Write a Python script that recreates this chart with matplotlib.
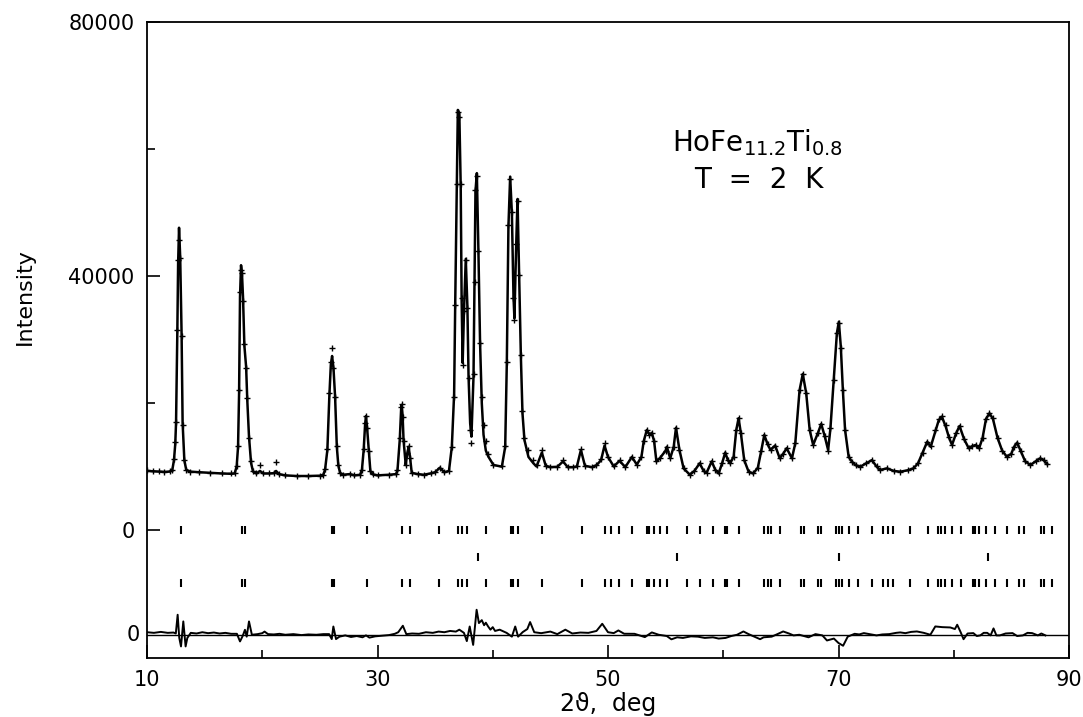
import matplotlib
matplotlib.use("Agg")
import matplotlib.pyplot as plt

plt.rcParams['font.family'] = ['DejaVu Sans']
plt.rcParams['mathtext.default'] = 'regular'

# ---- profile readings, in segments (2theta, calculated, observed) ----
tt_a = [10.0, 10.5, 11.0, 11.5, 12.0, 12.2, 12.34, 12.45, 12.52, 12.63, 12.7, 12.78, 12.88, 13.0, 13.09, 13.24, 13.4, 13.7]
ic_a = [9300, 9250, 9200, 9150, 9200, 9500, 11000, 13500, 16850, 31000, 42000, 47600, 43000, 31000, 16850, 11000, 9500, 9200]
io_a = [9400, 9300, 9250, 9200, 9250, 9500, 11200, 13800, 17000, 31500, 42500, 45600, 42800, 30500, 16500, 11000, 9400, 9200]

tt_b = [14.5, 15.5, 16.5, 17.3, 17.6, 17.78, 17.9, 17.99, 18.07, 18.16, 18.25, 18.33, 18.45, 18.6, 18.7, 18.85, 19.03, 19.2]
ic_b = [9100, 9000, 8900, 8850, 8900, 10000, 13100, 21570, 36700, 41700, 40000, 36700, 29000, 25700, 20500, 14700, 10550, 9200]
io_b = [9150, 9050, 8950, 8900, 8950, 10100, 13300, 22000, 37500, 41000, 40500, 36000, 29300, 25500, 20800, 14500, 10800, 9300]

tt_c = [19.5, 19.8, 20.1, 20.6, 21.0, 21.2, 21.45, 22.0, 23.0, 24.0, 25.0, 25.3]
ic_c = [8900, 9300, 8900, 8900, 8950, 9300, 8800, 8600, 8500, 8500, 8550, 8700]
io_c = [8900, 10200, 9000, 8900, 9000, 10700, 8800, 8600, 8500, 8500, 8550, 8700]

tt_d = [25.45, 25.65, 25.82, 25.95, 26.06, 26.18, 26.32, 26.47, 26.6, 26.75, 27.0]
ic_d = [9500, 12600, 21000, 26000, 27400, 25500, 21000, 13100, 10200, 9000, 8700]
io_d = [9600, 12800, 21500, 26500, 28700, 25500, 21000, 13300, 10200, 9000, 8700]

tt_e = [27.6, 28.0, 28.5, 28.65, 28.8, 28.92, 29.0, 29.1, 29.24, 29.38, 29.6]
ic_e = [8800, 8600, 8700, 9500, 12600, 16500, 17950, 16000, 12600, 9300, 8750]
io_e = [8800, 8600, 8700, 9500, 12800, 16800, 17900, 16000, 12400, 9300, 8750]

tt_f = [30.0, 31.0, 31.6, 31.73, 31.93, 32.05, 32.1, 32.18, 32.26, 32.45, 32.58, 32.7, 32.82, 32.97, 33.5]
ic_f = [8600, 8700, 8800, 9300, 14170, 19000, 19700, 18000, 14170, 10240, 12000, 13100, 11500, 9000, 8800]
io_f = [8600, 8700, 8800, 9400, 14500, 19300, 19800, 17800, 14000, 10300, 12100, 13200, 11400, 9000, 8800]

tt_g = [34.0, 34.6, 35.0, 35.4, 35.8, 36.2, 36.45]
ic_g = [8700, 8900, 9100, 9800, 9100, 9300, 13100]
io_g = [8700, 8900, 9100, 9800, 9100, 9300, 13000]

tt_h = [36.65, 36.74, 36.88, 36.97, 37.1, 37.22, 37.3, 37.39, 37.5, 37.66, 37.8, 37.9, 38.04, 38.15,
        38.33, 38.42, 38.5, 38.62, 38.76, 38.9, 39.05, 39.2, 39.4, 39.62, 40.06, 40.79]
ic_h = [21500, 35200, 54100, 66150, 65600, 54100, 36200, 26300, 34200, 42700, 35200, 24150, 16800, 14700,
        24150, 38850, 53300, 56200, 43600, 29400, 19950, 15000, 12500, 11550, 10240, 9970]
io_h = [21000, 35500, 54500, 65800, 65000, 54500, 36500, 26000, 34500, 42500, 35000, 24000, 15800, 13700,
        24500, 39000, 53500, 55800, 44000, 29500, 21000, 16500, 14000, 12000, 10300, 10000]

tt_i = [41.08, 41.22, 41.36, 41.51, 41.66, 41.8, 41.88, 42.03, 42.15, 42.29, 42.44, 42.58, 42.75, 43.1, 43.53]
ic_i = [13100, 26250, 47770, 55650, 49900, 36750, 33340, 44600, 52130, 39900, 27300, 18380, 14170, 11500, 10500]
io_i = [13300, 26500, 48000, 55300, 50000, 36500, 33000, 45000, 51800, 40200, 27500, 18800, 14500, 12600, 11000]

tt_j = [43.8, 44.26, 44.6, 45.0, 45.6, 46.1, 46.5, 47.0, 47.3, 47.65, 48.0, 48.6, 49.0, 49.4, 49.7, 50.0,
        50.5, 51.0, 51.5, 52.07, 52.5, 52.9, 53.1, 53.37, 53.6, 53.8, 54.0, 54.2, 54.5, 55.0, 55.1, 55.4]
ic_j = [10000, 12200, 10100, 9900, 9950, 10800, 9900, 9900, 10000, 12600, 10100, 9900, 10200, 11000, 13300, 11500,
        10000, 10900, 9900, 11500, 10300, 11500, 14000, 15750, 15000, 15300, 14000, 10800, 11300, 12500, 13100, 11300]
io_j = [10200, 12600, 10100, 9900, 9950, 11000, 9900, 9900, 10000, 12800, 10100, 9900, 10200, 11200, 13650, 11500,
        10000, 11000, 9900, 11500, 10300, 11500, 14000, 15750, 15000, 15300, 14000, 10800, 11300, 12500, 13100, 11300]

tt_k = [55.7, 55.9, 56.2, 56.56, 57.1, 57.5, 57.95, 58.3, 58.55, 59.0, 59.3, 59.6, 59.9, 60.17, 60.4, 60.6,
        60.9, 61.13, 61.33, 61.53, 61.82, 62.2, 62.6, 63.0]
ic_k = [13100, 16100, 12600, 9700, 8700, 9300, 10500, 9300, 9000, 10800, 9500, 8900, 10500, 12200, 11000, 10500,
        11550, 15750, 17600, 15230, 11000, 9180, 8900, 9800]
io_k = [13100, 16100, 12600, 9700, 8700, 9300, 10500, 9300, 9000, 10800, 9500, 8900, 10500, 12200, 11000, 10500,
        11550, 15750, 17600, 15230, 11000, 9180, 8900, 9800]

tt_l = [63.3, 63.56, 63.85, 64.1, 64.5, 64.9, 65.2, 65.5, 65.96, 66.25, 66.62, 66.9, 67.2, 67.5, 67.8,
        68.2, 68.5, 68.8, 69.1, 69.3, 69.58, 69.86, 70.03, 70.2, 70.38, 70.57, 70.88, 71.16, 71.5, 71.9]
ic_l = [12500, 14960, 13500, 12600, 13300, 11300, 12000, 12870, 11300, 13650, 22000, 24570, 21500, 15750, 13400,
        15200, 16700, 14800, 12600, 16000, 23600, 31000, 32800, 28900, 22000, 15750, 11550, 10760, 10200, 9970]
io_l = [12500, 14960, 13500, 12600, 13300, 11300, 12000, 12870, 11300, 13650, 22000, 24570, 21500, 15750, 13400,
        15200, 16700, 14800, 12400, 16000, 23600, 31000, 32600, 28700, 22000, 15750, 11550, 10760, 10200, 9970]

tt_m = [72.4, 72.9, 73.3, 73.6, 74.2, 74.8, 75.36, 76.0, 76.5, 76.9, 77.3, 77.7, 78.0, 78.4, 78.7, 78.97,
        79.3, 79.6, 79.85, 80.2, 80.5, 80.9, 81.3, 81.6, 81.9, 82.2, 82.5, 82.8, 83.1, 83.4, 83.8, 84.2,
        84.6, 85.0, 85.2, 85.5, 85.8, 86.2, 86.65, 87.1, 87.5, 87.8, 88.1]
ic_m = [10500, 11000, 10000, 9450, 9700, 9300, 9180, 9400, 9700, 10500, 12200, 13900, 13100, 15500, 17300, 17850,
        16300, 14500, 13400, 15200, 16380, 14300, 12870, 13200, 13390, 12870, 14500, 17500, 18380, 17500, 14500, 12500,
        11550, 12000, 13000, 13760, 12500, 10800, 10240, 10800, 11290, 11000, 10400]
io_m = [10500, 11000, 10000, 9450, 9700, 9300, 9180, 9400, 9700, 10500, 12200, 13900, 13300, 15700, 17500, 18000,
        16500, 14600, 13400, 15300, 16380, 14300, 12870, 13200, 13390, 12870, 14500, 17500, 18380, 17600, 14500, 12500,
        11550, 12000, 13000, 13760, 12500, 10800, 10240, 10800, 11290, 11000, 10400]

two_theta = tt_a + tt_b + tt_c + tt_d + tt_e + tt_f + tt_g + tt_h + tt_i + tt_j + tt_k + tt_l + tt_m
i_calc = ic_a + ic_b + ic_c + ic_d + ic_e + ic_f + ic_g + ic_h + ic_i + ic_j + ic_k + ic_l + ic_m
i_obs = io_a + io_b + io_c + io_d + io_e + io_f + io_g + io_h + io_i + io_j + io_k + io_l + io_m

# ---- difference curve readings ----
diff_theta = [10.0, 10.6, 11.2, 11.8, 12.3, 12.5, 12.66, 12.8, 12.95, 13.15, 13.35, 13.5, 13.8, 14.3, 14.8, 15.3,
              15.8, 16.3, 16.8, 17.3, 17.8, 18.07, 18.3, 18.5, 18.65, 18.85, 19.1, 19.6, 20.0, 20.2, 20.5, 21.0,
              21.5, 22.0, 22.7, 23.4, 24.0, 24.7, 25.3, 25.8, 26.03, 26.17, 26.4, 26.7, 27.2, 27.7, 28.2, 28.7,
              29.0, 29.3, 29.8, 30.4, 31.0, 31.5, 31.8, 32.2, 32.5, 33.0, 33.6, 34.2, 34.8, 35.3, 35.8, 36.3,
              36.8, 37.1, 37.5, 37.75, 38.0, 38.3, 38.6, 38.8, 39.05, 39.25, 39.4, 39.6, 39.8, 40.0, 40.2, 40.6,
              41.2, 41.66, 41.95, 42.2, 42.6, 43.0, 43.24, 43.6, 44.2, 45.0, 45.6, 46.3, 46.9, 47.6, 48.3, 49.0,
              49.5, 50.0, 50.5, 50.9, 51.4, 52.3, 53.2, 53.8, 54.4, 55.1, 55.5, 56.0, 56.5, 57.2, 57.8, 58.4,
              59.1, 59.6, 60.2, 60.7, 61.2, 61.75, 62.2, 62.7, 63.2, 63.5, 64.2, 64.7, 65.2, 65.7, 66.1, 66.6,
              67.0, 67.4, 68.0, 68.6, 69.0, 69.6, 70.0, 70.4, 70.8, 71.4, 71.8, 72.2, 72.7, 73.3, 73.8, 74.4,
              75.0, 75.36, 75.8, 76.3, 76.8, 77.4, 77.97, 78.4, 79.0, 79.7, 80.1, 80.3, 80.6, 80.85, 81.2, 81.7,
              82.0, 82.3, 82.6, 82.9, 83.2, 83.45, 83.7, 84.0, 84.5, 85.1, 85.5, 86.0, 86.4, 86.8, 87.3, 87.6,
              87.95]
diff_val = [400, 300, 450, 300, 350, 200, 3150, -500, -1840, 2100, -1840, -500, 300, 200, 400, 250,
            350, 200, 300, 150, 150, -1050, -200, 780, -300, 2100, 0, 100, 250, 500, 100, 50,
            150, 0, 100, -50, 50, 0, 100, 100, -680, 1300, -680, -300, -100, -350, -200, -400,
            -100, -450, -250, -150, -50, 150, 400, 1420, 100, 200, 150, 400, 300, 500, 400, 600,
            500, 800, 300, -1000, 1300, -1600, 3940, 1840, 2300, 1500, 1900, 1300, 800, 1200, 600, 800,
            300, -300, 1300, -300, 420, 900, 2000, 400, 250, 500, 100, 800, 200, 350, 300, 600,
            1730, 400, 260, 680, 160, 150, -370, 370, 0, -200, -720, -400, -500, -250, -300, -500,
            -400, -600, -500, -200, 0, 520, 100, -300, -700, -400, -300, 100, 520, 200, -100, 0,
            -200, -400, 100, -100, -900, -600, -1300, -1730, -300, 150, 50, 260, 100, -100, 50, 100,
            300, 370, 250, 450, 520, 300, 0, 1310, 1200, 1150, 900, 1580, 400, -700, 200, 260,
            -200, -100, 300, 300, -100, 1000, -100, -100, 200, 260, -200, -100, 300, 260, -100, 200,
            -100]

# ---- reflection marker positions ----
refl_nuclear = [12.93, 18.22, 18.51, 26.03, 26.26, 29.07, 32.16, 32.83, 35.35, 37.0, 37.3, 37.8,
                39.4, 41.57, 41.8, 42.23, 44.31, 47.73, 49.76, 50.25, 50.97, 52.07, 53.37, 53.6,
                53.95, 54.55, 55.16, 56.84, 58.0, 59.07, 60.17, 60.3, 61.33, 63.56, 63.85, 64.14,
                64.89, 66.74, 67.03, 68.18, 68.47, 69.81, 70.0, 70.3, 70.88, 71.66, 72.9, 73.86,
                74.26, 74.72, 76.23, 77.76, 78.63, 78.92, 79.27, 79.85, 80.63, 81.67, 81.87, 82.16,
                82.83, 83.61, 84.62, 85.63, 86.13, 87.57, 87.8, 88.53]
refl_second = [38.76, 55.97, 70.08, 83.0]
refl_rows = [0, -4250, -8350]
diff_zero = -16500

fig = plt.figure(figsize=(10.83, 7.17), dpi=100)
ax = fig.add_axes([147/1083, 1-658/717, (1069-147)/1083, (658-22)/717])

ax.plot(two_theta, i_calc, color='k', lw=1.8, zorder=3)
ax.plot(two_theta, i_obs, ls='none', marker='+', ms=4, mew=1.0, color='k', zorder=4)

ax.vlines(refl_nuclear, refl_rows[0]-650, refl_rows[0]+650, color='k', lw=1.5)
ax.vlines(refl_second, refl_rows[1]-650, refl_rows[1]+650, color='k', lw=1.5)
ax.vlines(refl_nuclear, refl_rows[2]-650, refl_rows[2]+650, color='k', lw=1.5)

ax.axhline(diff_zero, color='k', lw=1.0)
ax.plot(diff_theta, [diff_zero + d for d in diff_val], color='k', lw=1.4)

ax.set_xlim(10, 90)
ax.set_ylim(-20160, 80000)

ax.set_xticks([10, 30, 50, 70, 90])
ax.set_xticks([20, 40, 60, 80], minor=True)
ax.set_yticks([0, 40000, 80000])
ax.set_yticklabels(['0', '40000', '80000'])
ax.set_yticks([20000, 60000], minor=True)
ax.tick_params(which='major', direction='in', length=9.5, width=1.2, labelsize=15, pad=9)
ax.tick_params(which='minor', direction='in', length=5.5, width=1.2)
ax.tick_params(axis='x', which='major', pad=9)
for s in ax.spines.values():
    s.set_linewidth(1.3)

ax.text(-0.008, (diff_zero + 20160) / 100160, '0', transform=ax.transAxes,
        ha='right', va='center', fontsize=15)

fig.text(608/1083, 1-704/717, '2ϑ,  deg', ha='center', va='center', fontsize=17)
fig.text(25/1083, 1-297/717, 'Intensity', rotation=90, ha='center', va='center', fontsize=16)

fig.text(757/1083, 1-143/717, r'HoFe$_{11.2}$Ti$_{0.8}$', ha='center', va='center', fontsize=20)
fig.text(759/1083, 1-180/717, 'T  =  2  K', ha='center', va='center', fontsize=20)

fig.savefig('out.png', dpi=100)
